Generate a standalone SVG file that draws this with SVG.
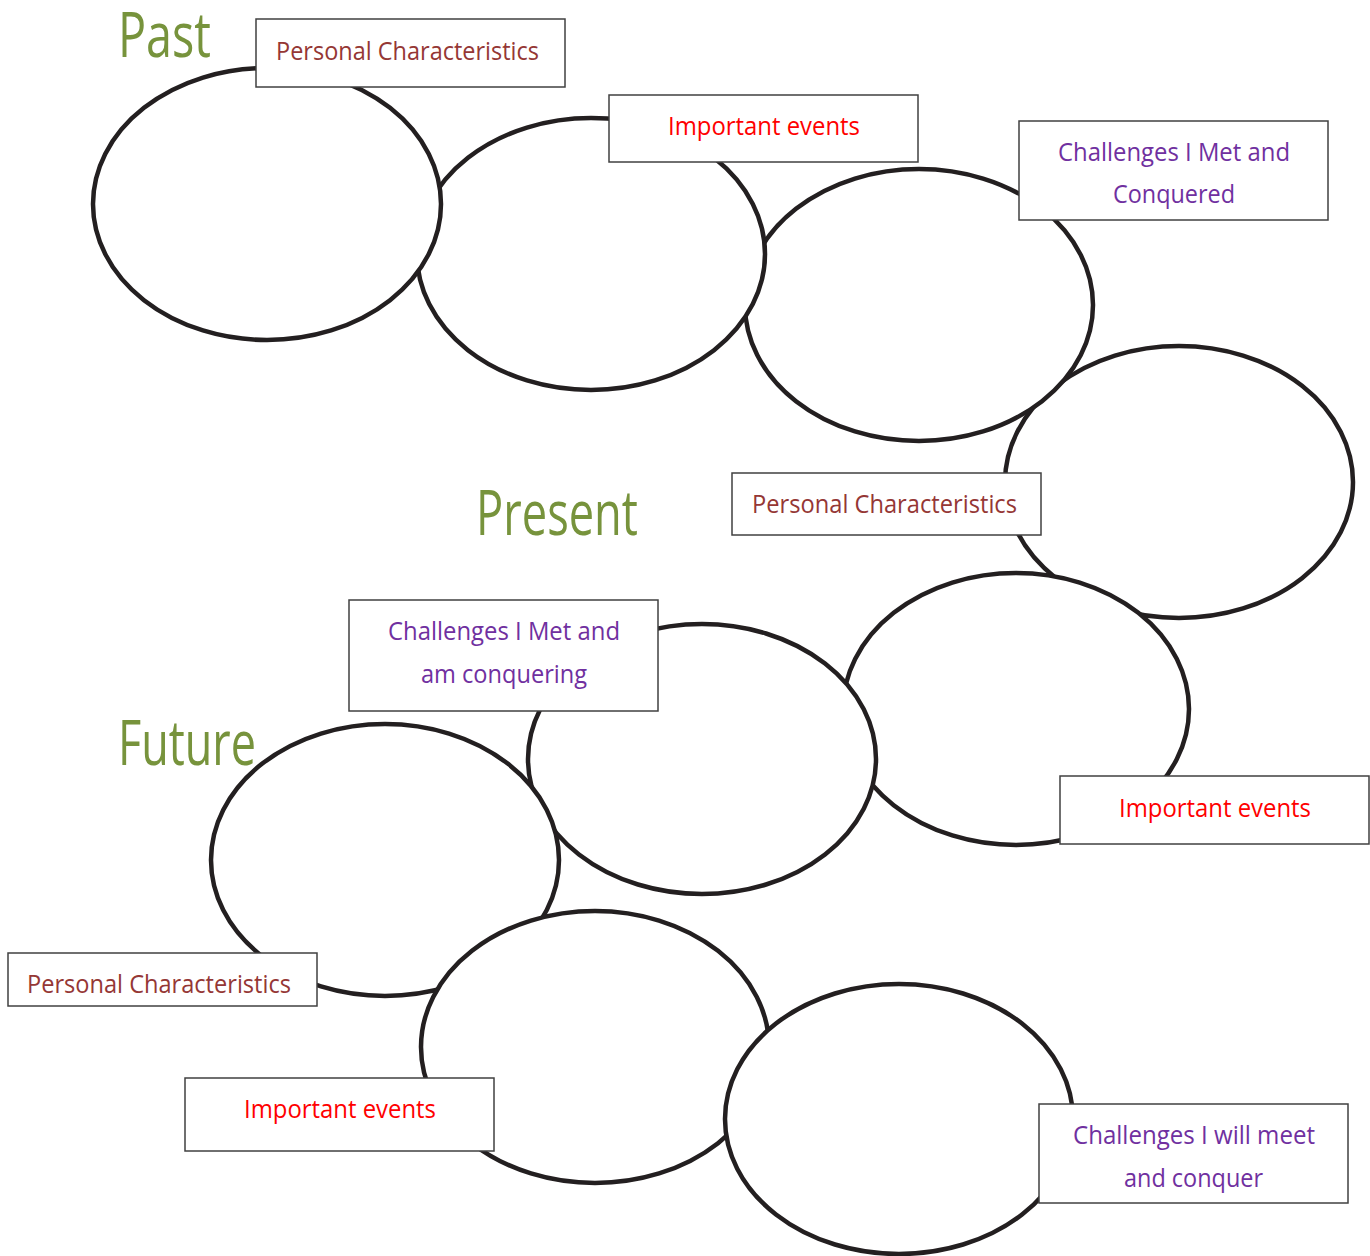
<svg xmlns="http://www.w3.org/2000/svg" width="1370" height="1256" viewBox="0 0 1370 1256">
<style>
.oval{fill:#fff;stroke:#231f20;stroke-width:4.5}
.box{fill:#fff;stroke:#404040;stroke-width:1.5}
.lbl{font-family:"Open Sans","Noto Sans","Liberation Sans",sans-serif;font-size:26px;text-anchor:start}
.pc{fill:#953735}
.ie{fill:#ff0000}
.ch{fill:#7030a0}
.title{font-family:"Open Sans","Noto Sans","Liberation Sans",sans-serif;font-size:62px;fill:#77933c}
</style>
<rect width="1370" height="1256" fill="#fff"/>
<g id="titles">
<text class="title" x="118" y="57" textLength="93" lengthAdjust="spacingAndGlyphs">Past</text>
<text class="title" x="476" y="535" textLength="162" lengthAdjust="spacingAndGlyphs">Present</text>
<text class="title" x="118" y="765" textLength="138" lengthAdjust="spacingAndGlyphs">Future</text>
</g>
<g id="past-ovals">
<g id="oval4"><ellipse class="oval" cx="1179" cy="482" rx="174" ry="136"/></g>
<g id="oval3"><ellipse class="oval" cx="919" cy="305" rx="174" ry="136"/></g>
<g id="oval2"><ellipse class="oval" cx="591" cy="254" rx="174" ry="136"/></g>
<g id="oval1"><ellipse class="oval" cx="267" cy="204" rx="174" ry="136"/></g>
</g>
<g id="later-ovals">
<g id="oval5"><ellipse class="oval" cx="1016" cy="709" rx="173" ry="136"/></g>
<g id="oval6"><ellipse class="oval" cx="702" cy="759" rx="174" ry="135"/></g>
<g id="oval7"><ellipse class="oval" cx="385" cy="860" rx="174" ry="136"/></g>
<g id="oval8"><ellipse class="oval" cx="595" cy="1047" rx="174" ry="136"/></g>
<g id="oval9"><ellipse class="oval" cx="899" cy="1119" rx="174" ry="135"/></g>
</g>
<g id="connectors"/>
<g id="label1"><rect class="box" x="256" y="19" width="309" height="68"/><text class="lbl pc" x="276" y="60" textLength="263" lengthAdjust="spacingAndGlyphs">Personal Characteristics</text></g>
<g id="label2"><rect class="box" x="609" y="95" width="309" height="67"/><text class="lbl ie" x="668" y="135" textLength="192" lengthAdjust="spacingAndGlyphs">Important events</text></g>
<g id="label3"><rect class="box" x="1019" y="121" width="309" height="99"/><text class="lbl ch" x="1058" y="161" textLength="232" lengthAdjust="spacingAndGlyphs">Challenges I Met and</text><text class="lbl ch" x="1113" y="203" textLength="122" lengthAdjust="spacingAndGlyphs">Conquered</text></g>
<g id="label4"><rect class="box" x="732" y="473" width="309" height="62"/><text class="lbl pc" x="752" y="513" textLength="265" lengthAdjust="spacingAndGlyphs">Personal Characteristics</text></g>
<g id="label5"><rect class="box" x="349" y="600" width="309" height="111"/><text class="lbl ch" x="388" y="640" textLength="232" lengthAdjust="spacingAndGlyphs">Challenges I Met and</text><text class="lbl ch" x="421" y="683" textLength="166" lengthAdjust="spacingAndGlyphs">am conquering</text></g>
<g id="label6"><rect class="box" x="1060" y="776" width="309" height="68"/><text class="lbl ie" x="1119" y="817" textLength="192" lengthAdjust="spacingAndGlyphs">Important events</text></g>
<g id="label7"><rect class="box" x="8" y="953" width="309" height="53"/><text class="lbl pc" x="27" y="993" textLength="264" lengthAdjust="spacingAndGlyphs">Personal Characteristics</text></g>
<g id="label8"><rect class="box" x="185" y="1078" width="309" height="73"/><text class="lbl ie" x="244" y="1118" textLength="192" lengthAdjust="spacingAndGlyphs">Important events</text></g>
<g id="label9"><rect class="box" x="1039" y="1104" width="309" height="99"/><text class="lbl ch" x="1073" y="1144" textLength="242" lengthAdjust="spacingAndGlyphs">Challenges I will meet</text><text class="lbl ch" x="1124" y="1187" textLength="139" lengthAdjust="spacingAndGlyphs">and conquer</text></g>
</svg>
